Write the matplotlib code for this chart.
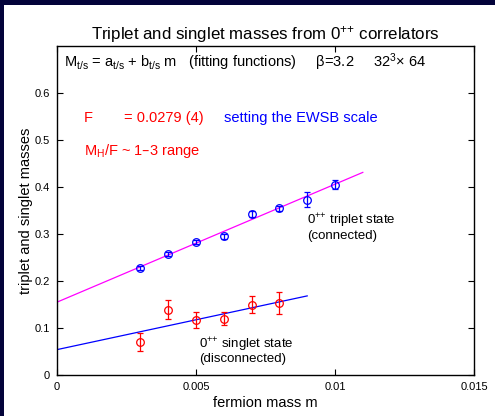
import numpy as np
import matplotlib
matplotlib.use("Agg")
import matplotlib.pyplot as plt
from matplotlib.patches import Rectangle

plt.rcParams["font.family"] = ["Liberation Sans", "DejaVu Sans"]
plt.rcParams["mathtext.default"] = "regular"

# ===============================
#  Data
# ===============================

m_triplet = [0.003, 0.004, 0.005, 0.006, 0.007, 0.008, 0.009, 0.010]
M_triplet = [0.228, 0.257, 0.283, 0.295, 0.343, 0.355, 0.373, 0.405]
err_triplet = [0.004, 0.004, 0.005, 0.005, 0.006, 0.005, 0.016, 0.009]

m_singlet = [0.003, 0.004, 0.005, 0.006, 0.007, 0.008]
M_singlet = [0.070, 0.139, 0.117, 0.120, 0.150, 0.153]
err_singlet = [0.019, 0.020, 0.018, 0.013, 0.019, 0.023]

# linear fits M = a + b m
a_t, b_t, m_end_t = 0.155, 25.1, 0.011
a_s, b_s, m_end_s = 0.054, 12.7, 0.009

x_ticks = [0, 0.005, 0.01, 0.015]
x_tick_labels = ["0", "0.005", "0.01", "0.015"]
y_ticks = [0, 0.1, 0.2, 0.3, 0.4, 0.5, 0.6]
y_tick_labels = ["0", "0.1", "0.2", "0.3", "0.4", "0.5", "0.6"]

# ===============================
#  Figure
# ===============================

fig = plt.figure(figsize=(4.95, 4.16), dpi=100)
fig.patch.set_facecolor("#03033a")
fig.add_artist(Rectangle((4 / 495, 0), 1, 1 - 5 / 416, transform=fig.transFigure,
                         facecolor="white", edgecolor="none", zorder=-10))

ax = fig.add_axes([57 / 495, 41 / 416, 417 / 495, 329 / 416])

xf = np.array([0, m_end_t])
ax.plot(xf, a_t + b_t * xf, color="#ff00ff", lw=0.9, zorder=2)
xf = np.array([0, m_end_s])
ax.plot(xf, a_s + b_s * xf, color="#0000ff", lw=0.9, zorder=2)

ax.errorbar(m_triplet, M_triplet, yerr=err_triplet, fmt="o", mfc="none", mec="#0000ff",
            ecolor="#0000ff", ms=5.5, mew=0.9, elinewidth=0.9, capsize=2, zorder=3)
ax.errorbar(m_singlet, M_singlet, yerr=err_singlet, fmt="o", mfc="none", mec="#ff0000",
            ecolor="#ff0000", ms=5.5, mew=0.9, elinewidth=0.9, capsize=2, zorder=3)

ax.set_xlim(0, 0.015)
ax.set_ylim(0, 0.7)
ax.set_xticks(x_ticks)
ax.set_xticklabels(x_tick_labels)
ax.set_yticks(y_ticks)
ax.set_yticklabels(y_tick_labels)
ax.tick_params(direction="in", top=True, right=True, length=4, width=0.8,
               labelsize=8, pad=5)
for s in ax.spines.values():
    s.set_linewidth(1.0)

ax.set_xlabel("fermion mass m", fontsize=10.5, labelpad=3)
ax.set_ylabel("triplet and singlet masses", fontsize=10.5, labelpad=1)
ax.set_title("Triplet and singlet masses from 0$^{{+}{+}}$ correlators", fontsize=12.2, pad=5)

ax.text(0.00025, 0.666, "M$_{t/s}$ = a$_{t/s}$ + b$_{t/s}$ m   (fitting functions)     "
        "β=3.2     32$^3$× 64", fontsize=10.5, va="center", ha="left")
ax.text(0.00098, 0.547, "F", color="#ff0000", fontsize=10.5, va="center")
ax.text(0.0024, 0.547, "= 0.0279 (4)", color="#ff0000", fontsize=10.5, va="center")
ax.text(0.006, 0.547, "setting the EWSB scale", color="#0000ff", fontsize=10.5, va="center")
ax.text(0.00098, 0.477, "M$_H$/F ~ 1–3 range", color="#ff0000", fontsize=10.5, va="center")

ax.text(0.009, 0.315, "0$^{{+}{+}}$ triplet state\n(connected)", fontsize=9.5,
        va="center", ha="left", linespacing=0.95)
ax.text(0.0051, 0.052, "0$^{{+}{+}}$ singlet state\n(disconnected)", fontsize=9.5,
        va="center", ha="left", linespacing=0.95)

fig.savefig("out.png", dpi=100, facecolor=fig.get_facecolor())
